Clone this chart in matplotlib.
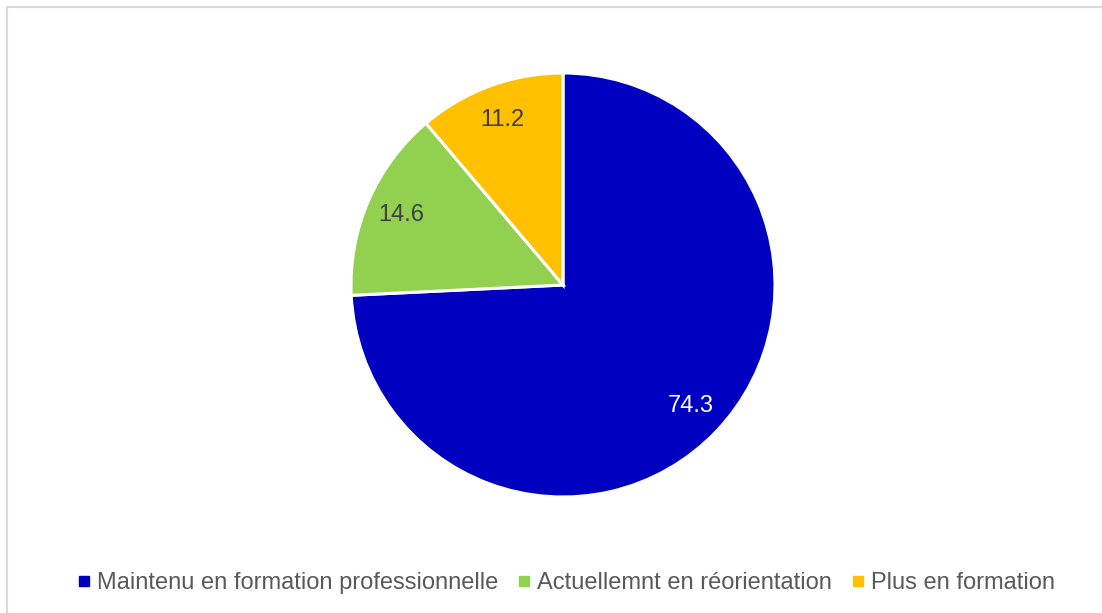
import matplotlib.pyplot as plt
from matplotlib.lines import Line2D

plt.rcParams['font.family'] = ['Liberation Sans', 'DejaVu Sans']

labels = ['Maintenu en formation professionnelle', 'Actuellemnt en réorientation', 'Plus en formation']
values = [74.3, 14.6, 11.2]
colors = ['#0000C0', '#92D050', '#FFC000']
label_colors = ['white', '#404040', '#404040']

fig = plt.figure(figsize=(11.02, 6.13), dpi=100)
ax = fig.add_axes([0, 0, 1, 1])
ax.set_xlim(0, 1102)
ax.set_ylim(613, 0)
ax.axis('off')

# chart frame (only left/top edges are inside the picture)
ax.plot([7, 7, 1110], [620, 7, 7], color='#d9d9d9', lw=1.5)

pax = fig.add_axes([(563 - 212) / 1102, 1 - (285 + 212) / 613, 424 / 1102, 424 / 613])
wedges, texts = pax.pie(values, colors=colors, startangle=90, counterclock=False,
                        labels=[f'{v:.1f}' for v in values], labeldistance=0.83,
                        wedgeprops=dict(edgecolor='white', linewidth=2.2))
for t, c in zip(texts, label_colors):
    t.set_color(c)
    t.set_fontsize(17)
    t.set_ha('center')
    t.set_va('center')
pax.set_xlim(-1.0, 1.0)
pax.set_ylim(-1.0, 1.0)
pax.set_aspect('equal')

handles = [Line2D([], [], marker='s', ls='', color=c, markersize=6.5) for c in colors]
fig.legend(handles, labels, loc='center', bbox_to_anchor=(565 / 1102, 1 - 583 / 613),
           ncol=3, frameon=False, fontsize=17, labelcolor='#595959',
           handletextpad=0.2, columnspacing=0.75, handlelength=0.7)

fig.savefig('out.png', dpi=100)
